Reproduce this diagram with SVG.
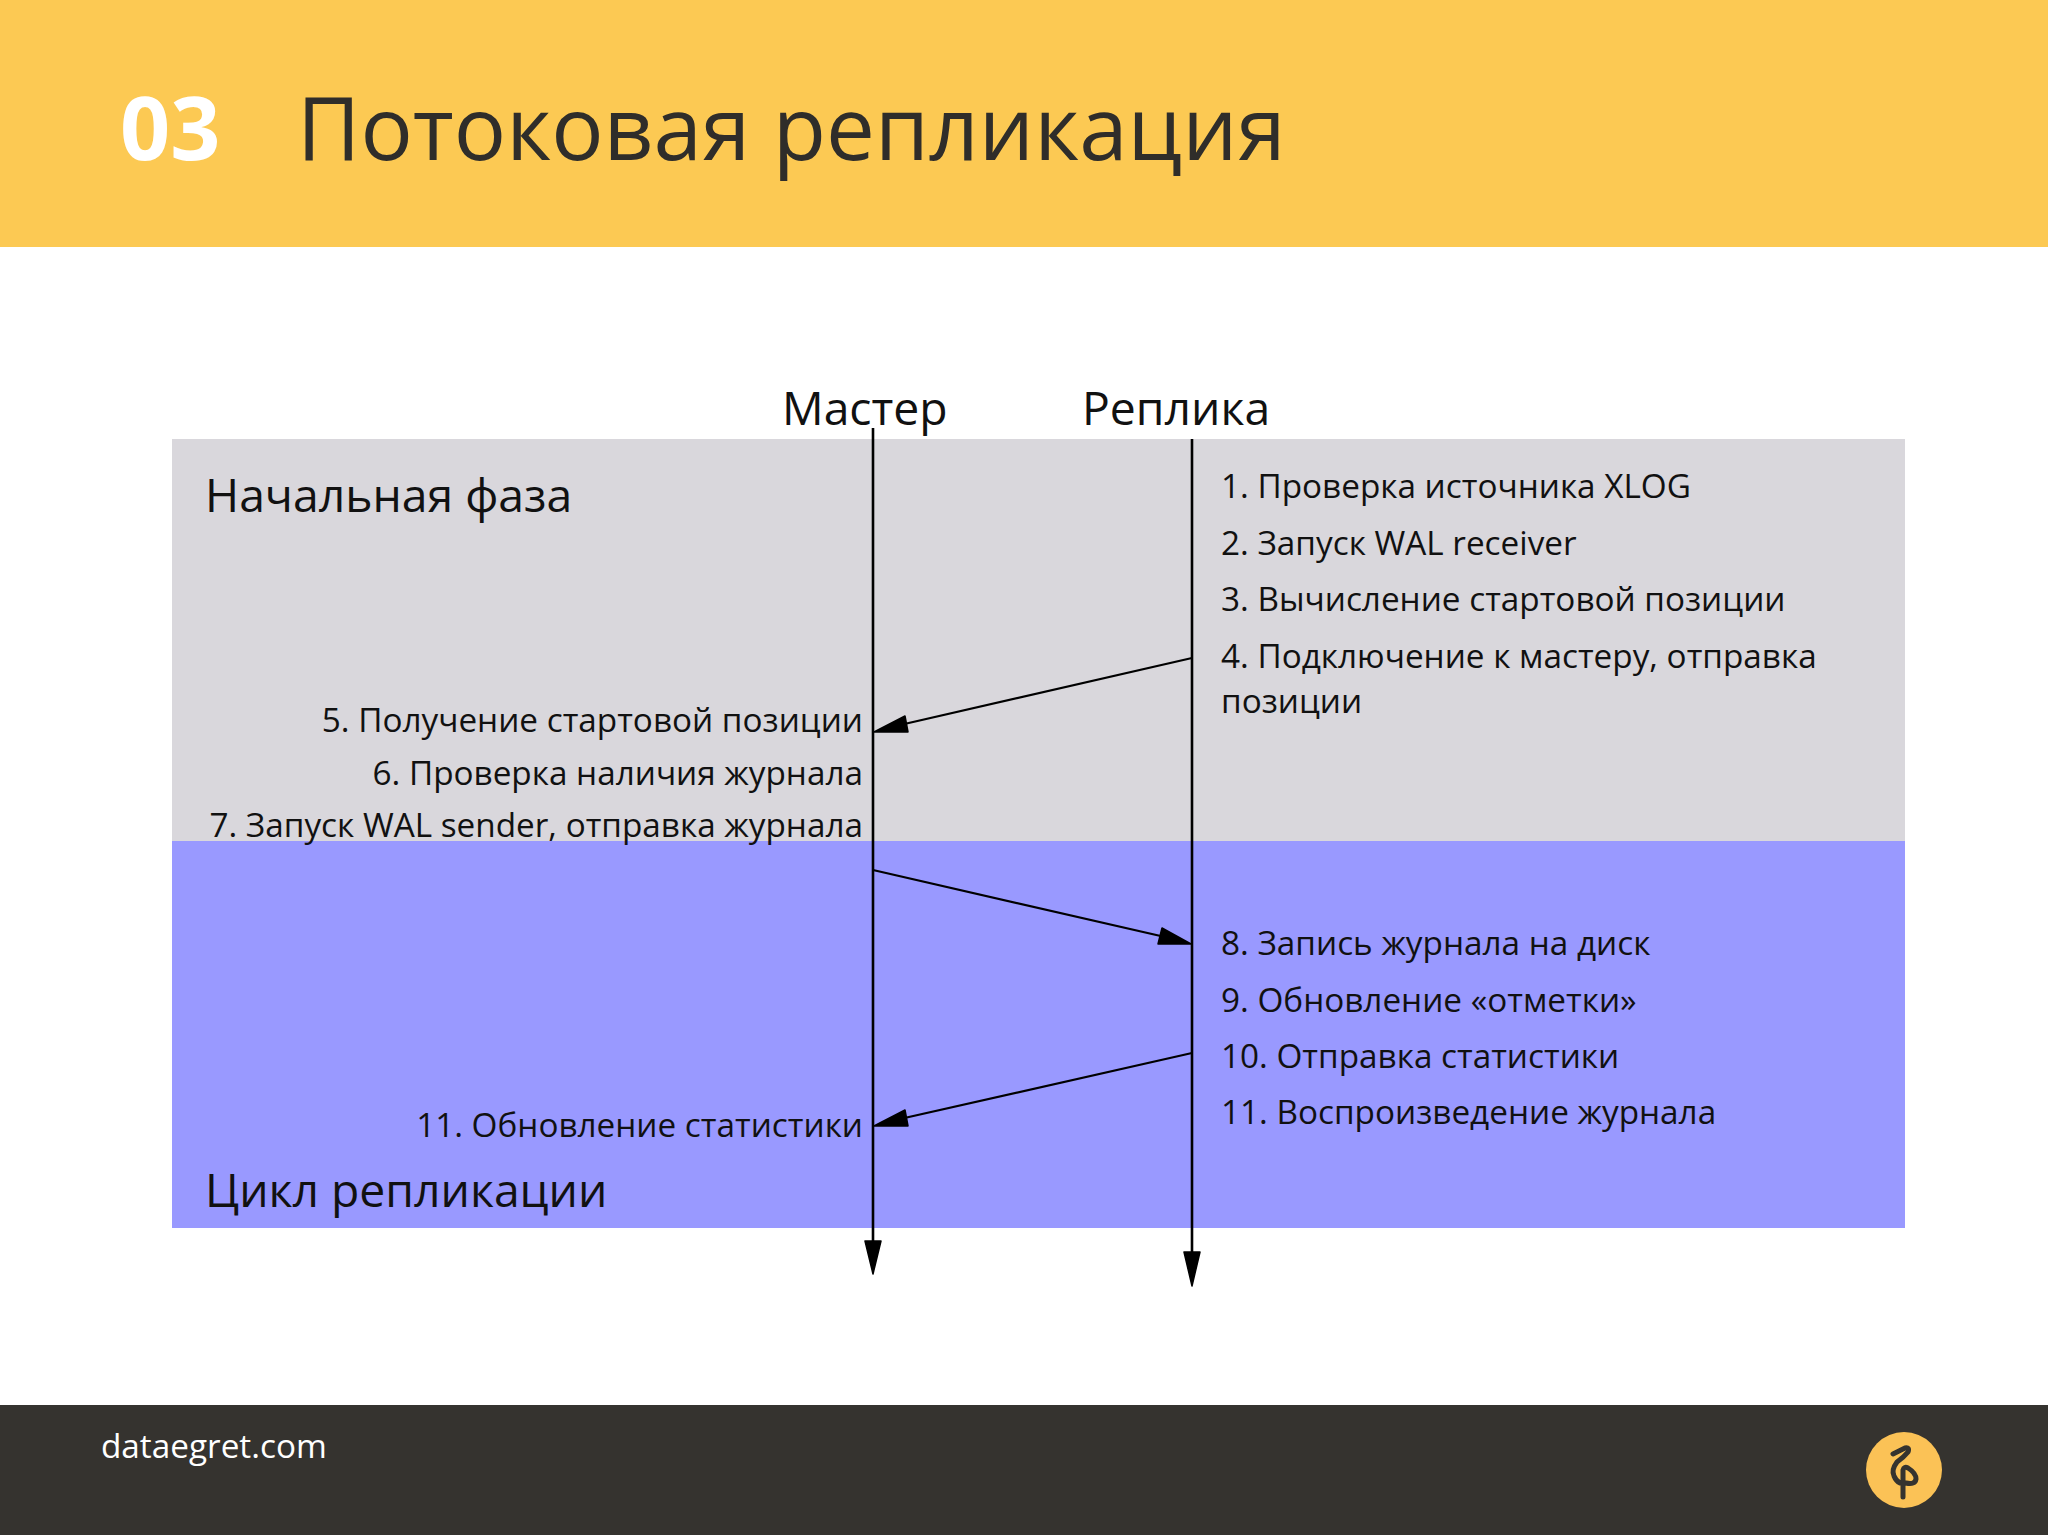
<svg xmlns="http://www.w3.org/2000/svg" width="2048" height="1535" viewBox="0 0 2048 1535">
<style>
text{font-family:"Open Sans","Noto Sans",sans-serif;fill:#111}
.s{font-size:33.3px}
.r{text-anchor:end}
.h{font-size:46.3px}
.life{stroke:#000;stroke-width:2.6;fill:none}
.msg{stroke:#000;stroke-width:2.2;fill:none}
.head{fill:#000;stroke:#000;stroke-width:1.5;stroke-linejoin:round}
</style>
<g id="header">
<rect width="2048" height="247" fill="#fcc953"/>
<text x="120" y="160" font-size="87.8" font-weight="700" style="fill:#fff">03</text>
<text x="297" y="160" font-size="87.1" style="fill:#2f2d2a">Потоковая репликация</text>
</g>
<g id="phase-initial">
<rect x="172" y="439" width="1733" height="402" fill="#d9d7dc"/>
<text class="h" x="205" y="512">Начальная фаза</text>
</g>
<g id="phase-cycle">
<rect x="172" y="841" width="1733" height="387" fill="#9999ff"/>
<text class="h" x="205" y="1207">Цикл репликации</text>
</g>
<g id="master">
<text class="h" x="782" y="425">Мастер</text>
<text class="s r" x="863" y="732">5. Получение стартовой позиции</text>
<text class="s r" x="863" y="785">6. Проверка наличия журнала</text>
<text class="s r" x="863" y="837">7. Запуск WAL sender, отправка журнала</text>
<text class="s r" x="863" y="1137">11. Обновление статистики</text>
</g>
<g id="replica">
<text class="h" x="1082" y="425">Реплика</text>
<text class="s" x="1221" y="498">1. Проверка источника XLOG</text>
<text class="s" x="1221" y="555">2. Запуск WAL receiver</text>
<text class="s" x="1221" y="611">3. Вычисление стартовой позиции</text>
<text class="s" x="1221" y="668">4. Подключение к мастеру, отправка</text>
<text class="s" x="1221" y="713">позиции</text>
<text class="s" x="1221" y="955">8. Запись журнала на диск</text>
<text class="s" x="1221" y="1012">9. Обновление «отметки»</text>
<text class="s" x="1221" y="1068">10. Отправка статистики</text>
<text class="s" x="1221" y="1124">11. Воспроизведение журнала</text>
</g>
<g id="connectors">
<path class="life" d="M873 428V1245"/>
<path class="life" d="M1192 439V1257"/>
<polygon class="head" points="873,1274 865,1241 881,1241"/>
<polygon class="head" points="1192,1286 1184,1252 1200,1252"/>
<path class="msg" d="M1192 658L900 725"/>
<polygon class="head" points="874,732 905,716 908,732"/>
<path class="msg" d="M873 870L1165 937"/>
<polygon class="head" points="1191,944 1162,928 1158,944"/>
<path class="msg" d="M1192 1053L900 1119"/>
<polygon class="head" points="874,1126 905,1110 908,1126"/>
</g>
<g id="footer">
<rect y="1405" width="2048" height="130" fill="#35332f"/>
<text x="101" y="1458" font-size="33.3" style="fill:#fff">dataegret.com</text>
<circle cx="1904" cy="1470" r="38" fill="#fbc256"/>
<path d="M1893 1454L1905 1448Q1910 1447 1908 1452Q1904 1457 1897 1462Q1891 1470 1894 1476Q1896 1481 1900 1483M1903 1497V1470Q1904 1466 1908 1468Q1916 1473 1916 1479Q1915 1485 1906 1483" fill="none" stroke="#35332f" stroke-width="5" stroke-linecap="round" stroke-linejoin="round"/>
</g>
</svg>
